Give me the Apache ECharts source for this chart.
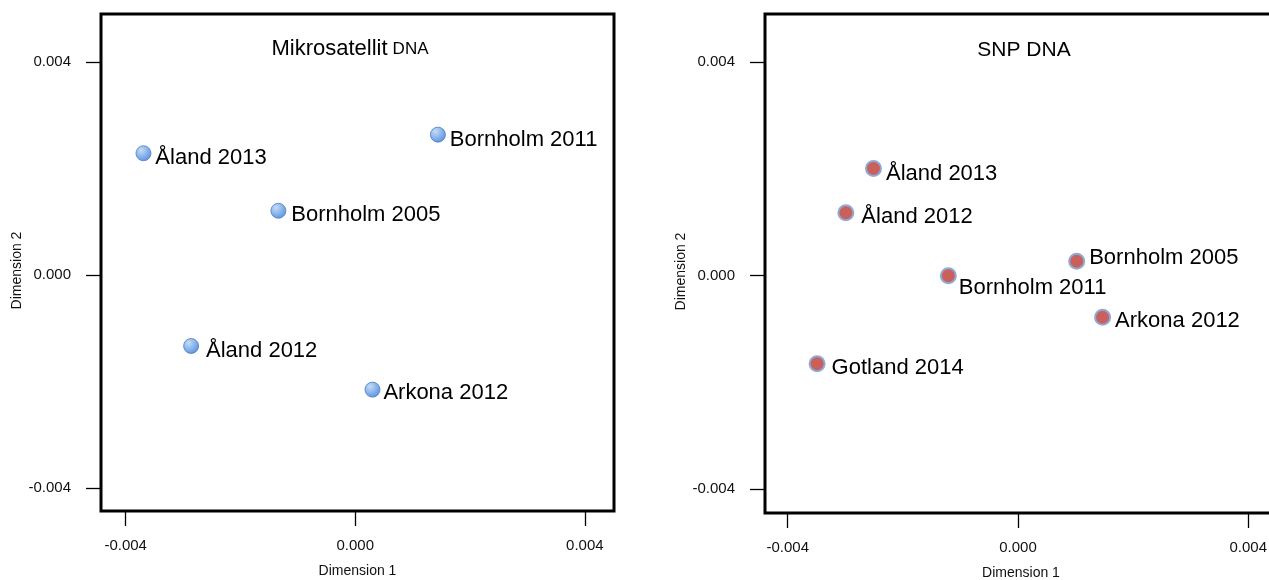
<!DOCTYPE html>
<html>
<head>
<meta charset="utf-8">
<title>MDS Mikrosatellit / SNP</title>
<script src="https://cdn.jsdelivr.net/npm/echarts@6/dist/echarts.min.js"></script>
<style>
	html, body { margin: 0; padding: 0; background: #fff; }
	#chartMds { width: 1269px; height: 580px; }
</style>
</head>
<body>
<div id="chartMds"></div>
<script>
// tick values shared by both panels
var tickValues = [ -0.004, 0, 0.004 ];

// Mikrosatellit DNA (left panel)
var microNames = [ 'Åland 2013', 'Bornholm 2011', 'Bornholm 2005', 'Åland 2012', 'Arkona 2012' ];
var microDim1 = [ -0.00369, 0.00144, -0.00134, -0.00286, 0.00030 ];
var microDim2 = [ 0.00229, 0.00264, 0.00121, -0.00133, -0.00215 ];

// SNP DNA (right panel)
var snpNames = [ 'Åland 2013', 'Åland 2012', 'Bornholm 2005', 'Bornholm 2011', 'Arkona 2012', 'Gotland 2014' ];
var snpDim1 = [ -0.00251, -0.00299, 0.00102, -0.00121, 0.00147, -0.00349 ];
var snpDim2 = [ 0.00201, 0.00118, 0.00027, 0.00000, -0.00078, -0.00165 ];

var FONT = "'Liberation Sans', Arial, Helvetica, sans-serif";

var curCfg = {
	div : { id : 'chartMds' },
	// label shift for each point (px), same order as the names
	microShift : [ [ 1, 5 ], [ 1, 5 ], [ 2, 4 ], [ 4, 5 ], [ 0, 3 ] ],
	snpShift : [ [ 1, 5 ], [ 4, 4 ], [ 1, -3 ], [ -1, 12 ], [ 1, 4 ], [ 3, 4 ] ]
};

function buildPoints(names, xs, ys, shift) {
	var out = [];
	for (var i = 0; i < names.length; i++) {
		out.push({
			name : names[i],
			value : [ xs[i], ys[i] ],
			label : { offset : shift[i] }
		});
	}
	return out;
}

function makeXAxis(grid, min, max) {
	return {
		gridIndex : grid,
		type : 'value',
		position : 'bottom',
		min : min,
		max : max,
		axisLine : { show : false, onZero : false },
		splitLine : { show : false },
		axisTick : {
			show : true,
			inside : false,
			length : 15,
			customValues : tickValues,
			lineStyle : { color : '#000', width : 1.3 }
		},
		axisLabel : {
			customValues : tickValues,
			margin : 27,
			fontSize : 15,
			fontFamily : FONT,
			color : '#111',
			formatter : function(v) { return v.toFixed(3); }
		},
		name : 'Dimension 1',
		nameLocation : 'middle',
		nameGap : 53,
		nameTextStyle : { fontSize : 14, fontFamily : FONT, color : '#111' }
	};
}

function makeYAxis(grid, min, max, nameGap) {
	return {
		gridIndex : grid,
		type : 'value',
		position : 'left',
		min : min,
		max : max,
		axisLine : { show : false, onZero : false },
		splitLine : { show : false },
		axisTick : {
			show : true,
			inside : false,
			length : 15,
			customValues : tickValues,
			lineStyle : { color : '#000', width : 1.3 }
		},
		axisLabel : {
			customValues : tickValues,
			margin : 30,
			fontSize : 15,
			fontFamily : FONT,
			color : '#111',
			formatter : function(v) { return v.toFixed(3); }
		},
		name : 'Dimension 2',
		nameLocation : 'middle',
		nameRotate : 90,
		nameGap : nameGap,
		// push the rotated name a bit lower, like the original
		nameTextStyle : { fontSize : 14, fontFamily : FONT, color : '#111', padding : [ 0, 16, 0, 0 ] }
	};
}

var pointLabel = {
	show : true,
	position : 'right',
	distance : 3,
	formatter : '{b}',
	fontSize : 22,
	fontFamily : FONT,
	color : '#000'
};

var option = {
	backgroundColor : '#fff',
	animation : false,
	title : [ {
		text : '{a|Mikrosatellit} {b|DNA}',
		left : 350,
		top : 38,
		padding : 0,
		textAlign : 'center',
		textStyle : {
			fontFamily : FONT,
			fontWeight : 'normal',
			color : '#000',
			rich : {
				a : { fontSize : 22, fontWeight : 'normal', fontFamily : FONT, color : '#000' },
				b : { fontSize : 17, fontWeight : 'normal', fontFamily : FONT, color : '#000' }
			}
		}
	}, {
		text : 'SNP DNA',
		left : 1024,
		top : 40,
		padding : 0,
		textAlign : 'center',
		textStyle : { fontSize : 21, fontWeight : 'normal', fontFamily : FONT, color : '#000' }
	} ],
	grid : [ {
		left : 101, top : 14, width : 513, height : 497,
		outerBoundsMode : 'none', containLabel : false,
		show : true, borderColor : '#000', borderWidth : 3, backgroundColor : 'transparent'
	}, {
		// right edge runs past the page, as in the original
		left : 765, top : 14, width : 512, height : 499,
		outerBoundsMode : 'none', containLabel : false,
		show : true, borderColor : '#000', borderWidth : 3, backgroundColor : 'transparent'
	} ],
	xAxis : [ makeXAxis(0, -0.00443, 0.004508), makeXAxis(1, -0.004395, 0.0045) ],
	yAxis : [ makeYAxis(0, -0.00443, 0.004906, 77), makeYAxis(1, -0.00445, 0.004906, 73) ],
	series : [ {
		type : 'scatter',
		xAxisIndex : 0,
		yAxisIndex : 0,
		symbolSize : 15,
		itemStyle : {
			color : {
				type : 'radial', x : 0.35, y : 0.3, r : 0.75,
				colorStops : [ { offset : 0, color : '#c2dcf8' }, { offset : 1, color : '#5b93dc' } ]
			},
			borderColor : '#4a7cc0',
			borderWidth : 0.8,
			opacity : 1
		},
		label : pointLabel,
		data : buildPoints(microNames, microDim1, microDim2, curCfg.microShift)
	}, {
		type : 'scatter',
		xAxisIndex : 1,
		yAxisIndex : 1,
		symbolSize : 15,
		itemStyle : {
			color : '#c9605b',
			borderColor : '#8eaad6',
			borderWidth : 2,
			opacity : 1
		},
		label : pointLabel,
		data : buildPoints(snpNames, snpDim1, snpDim2, curCfg.snpShift)
	} ]
};

echarts.init(document.getElementById(curCfg.div.id)).setOption(option);
</script>
</body>
</html>
